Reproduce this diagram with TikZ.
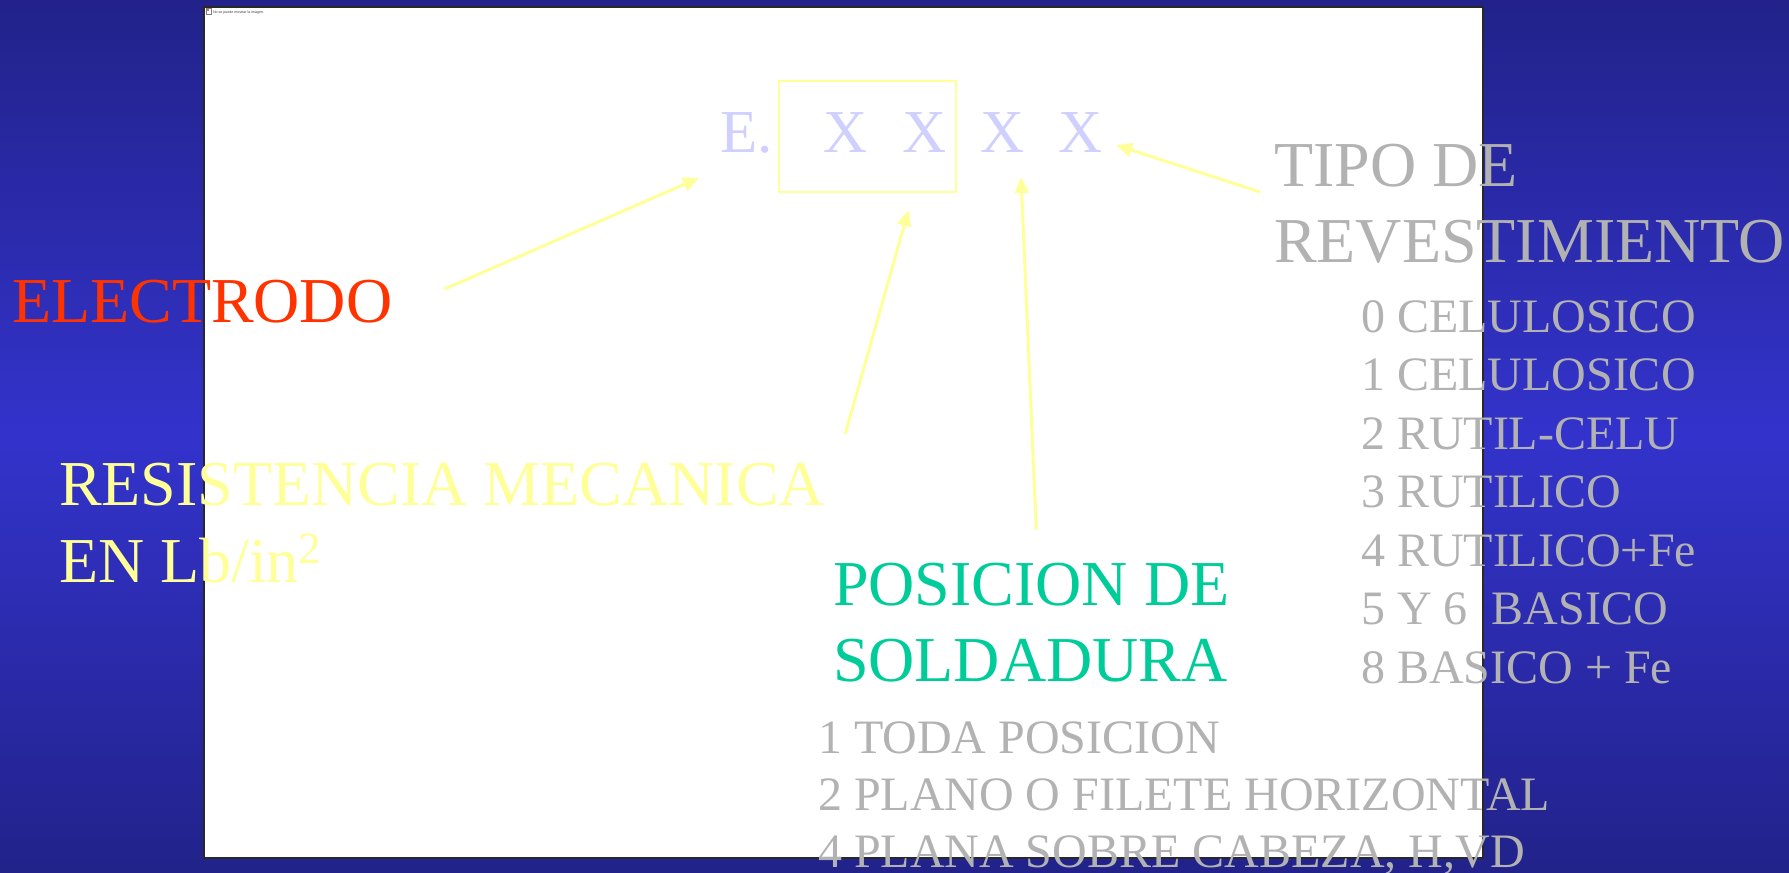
\documentclass[tikz,border=0pt]{standalone}
\usepackage{fontspec}
\setmainfont{Liberation Serif}
\newfontfamily\uifont{Liberation Sans}
\usetikzlibrary{arrows.meta,calc}
\definecolor{slidetop}{RGB}{34,34,138}
\definecolor{slidemid}{RGB}{51,51,204}
\definecolor{codeviolet}{RGB}{208,208,255}
\definecolor{paleyellow}{RGB}{255,255,153}
\definecolor{electrodored}{RGB}{255,51,0}
\definecolor{posgreen}{RGB}{0,204,153}
\definecolor{listgray}{RGB}{178,178,178}
\tikzset{
  bigtext/.style={inner sep=0pt,outer sep=0pt,anchor=base west,font=\fontsize{32}{38}\selectfont},
  codetext/.style={inner sep=0pt,outer sep=0pt,anchor=base west,text=codeviolet,font=\fontsize{30.5}{36}\selectfont},
  listtext/.style={inner sep=0pt,outer sep=0pt,anchor=base west,text=listgray,font=\fontsize{24}{28.5}\selectfont},
  codebox/.style={draw=paleyellow,line width=0.75pt,inner sep=0pt,outer sep=0pt,minimum width=88.5pt,minimum height=55.5pt},
  pointer/.style={draw=paleyellow,line width=1.5pt,-{Triangle[length=8pt,width=7pt]}}
}
\begin{document}
\begin{tikzpicture}[x=.5pt,y=-.5pt]
\path[use as bounding box] (0,0) rectangle (1789,873);
% slide background and the picture frame
\shade[top color=slidetop,bottom color=slidetop,middle color=slidemid] (0,0) rectangle (1789,873);
\path[fill=white,draw={rgb,255:red,40;green,40;blue,40},line width=0.75pt] (204,7) rectangle (1483,858);
\path[fill=white,draw=gray,line width=0.3pt] (206,8) rectangle (211,14);
\path[fill={rgb,255:red,230;green,110;blue,110}] (207,9) rectangle (209,11);
\node[inner sep=0pt,outer sep=0pt,anchor=base west,text=darkgray,font=\uifont\fontsize{1.8}{2.2}\selectfont] (brokenimg) at (213,13) {No se puede mostrar la imagen.};
% electrode code
\node[codebox] (pair) at (867.5,136.5) {};
\node[codetext] (ecode) at (720,152) {E.};
\node[codetext] (xa) at (823,152) {X};
\node[codetext] (xb) at (902,152) {X};
\node[codetext] (xc) at (980,152) {X};
\node[codetext] (xd) at (1058,152) {X};
% labels
\node[bigtext,text=electrodored] (electrodo) at (12,322) {ELECTRODO};
\node[bigtext,text=paleyellow] (resistA) at (59,505) {RESISTENCIA MECANICA};
\node[bigtext,text=paleyellow] (resistB) at (59,582) {EN Lb/in\textsuperscript{2}};
\node[bigtext,text=posgreen] (posA) at (833,605) {POSICION DE};
\node[bigtext,text=posgreen] (posB) at (833,681) {SOLDADURA};
\node[bigtext,text=listgray] (tipoA) at (1274,186) {TIPO DE};
\node[bigtext,text=listgray] (tipoB) at (1274,262) {REVESTIMIENTO};
% coating types
\node[listtext] (rev0) at (1361,332) {0 CELULOSICO};
\node[listtext] (rev1) at (1361,390) {1 CELULOSICO};
\node[listtext] (rev2) at (1361,449) {2 RUTIL-CELU};
\node[listtext] (rev3) at (1361,507) {3 RUTILICO};
\node[listtext] (rev4) at (1361,566) {4 RUTILICO+Fe};
\node[listtext] (rev5) at (1361,624) {5 Y 6\ \ BASICO};
\node[listtext] (rev8) at (1361,683) {8 BASICO + Fe};
% welding positions
\node[listtext] (pos1) at (818,753) {1 TODA POSICION};
\node[listtext] (pos2) at (818,810) {2 PLANO O FILETE HORIZONTAL};
\node[listtext] (pos4) at (818,867) {4 PLANA SOBRE CABEZA, H,VD};
% pointers
\draw[pointer] ($(electrodo.east)+(52,-12)$) -- ($(ecode.south west)+(-21,25)$);
\draw[pointer] ($(resistA.north east)+(20,-29)$) -- ($(pair.south)+(41,18)$);
\draw[pointer] ($(posA.north)+(5,-33)$) -- ($(xc.south)+(19,25)$);
\draw[pointer] ($(tipoA.base west)+(-14,6)$) -- ($(xd.east)+(14,13)$);
\end{tikzpicture}
\end{document}
